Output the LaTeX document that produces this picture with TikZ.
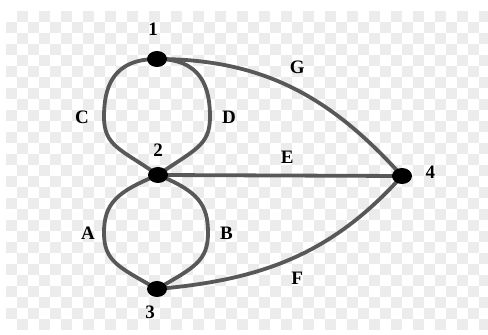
\documentclass[tikz,border=0pt]{standalone}
\usepackage{fontspec}
\setmainfont{Liberation Serif}
\usetikzlibrary{shapes.geometric, positioning, backgrounds}
\definecolor{edgegray}{RGB}{88,88,88}
\definecolor{checkgray}{RGB}{236,236,236}
\begin{document}
\begin{tikzpicture}[x=1pt, y=1pt,
    vertex/.style={ellipse, fill=black, minimum width=20pt, minimum height=16pt, inner sep=0pt},
    arc/.style={draw=edgegray, line width=3.8pt},
    tosides/.style={out looseness=1.45, in looseness=0.95},
    fromsides/.style={out looseness=0.95, in looseness=1.45},
    lbl/.style={font=\fontsize{19}{19}\selectfont\bfseries}]
    \useasboundingbox (0,0) rectangle (488,335);

    \node[vertex] (n1) at (157,276) {};
    \node[vertex] (n2) at (158,160) {};
    \node[vertex] (n3) at (157,46) {};
    \node[vertex] (n4) at (402,159) {};
    \node[lbl] (l1) [above=12pt of n1, xshift=-4pt] {1};
    \node[lbl] (l2) [above=7pt of n2] {2};
    \node[lbl] (l3) [below=5pt of n3, xshift=-7pt] {3};
    \node[lbl] (l4) [right=10pt of n4, yshift=4pt] {4};

    \coordinate (cC) at (104,218);
    \coordinate (cD) at (210,218);
    \coordinate (cA) at (104,102);
    \coordinate (cB) at (208,102);

    \begin{pgfonlayer}{background}
        % checkered background
        \fill[white] (0,0) rectangle (488,335);
        \begin{scope}
            \clip (6,5) rectangle (488,324);
            \foreach \j in {0,...,28}
                \foreach \i in {0,2,...,42} {
                    \pgfmathtruncatemacro{\k}{\i+mod(\j+1,2)}
                    \fill[checkgray] (6+11*\k, 324-11*\j) rectangle ++(11,-11);
                }
        \end{scope}
        % loops between 1, 2 and 3
        \draw[arc] (n1.center) to[out=180, in=90, tosides] (cC) node[lbl, left=10pt] {C} to[out=-90, in=145, fromsides] (n2.center);
        \draw[arc] (n1.center) to[out=0, in=90, tosides] (cD) node[lbl, right=7pt] {D} to[out=-90, in=35, fromsides] (n2.center);
        \draw[arc] (n2.center) to[out=-158, in=90, tosides] (cA) node[lbl, left=4pt] {A} to[out=-90, in=150, fromsides] (n3.center);
        \draw[arc] (n2.center) to[out=-22, in=90, tosides] (cB) node[lbl, right=7pt] {B} to[out=-90, in=30, fromsides] (n3.center);
        % edges to 4
        \draw[arc] (n1.center) to[out=0, in=132] node[lbl, pos=0.52, above=11pt] {G} (n4.center);
        \draw[arc] (n2.center) -- node[lbl, pos=0.53, above=7pt] {E} (n4.center);
        \draw[arc] (n3.center) to[out=5, in=-132] node[lbl, pos=0.52, below=11pt] {F} (n4.center);
    \end{pgfonlayer}
\end{tikzpicture}
\end{document}
